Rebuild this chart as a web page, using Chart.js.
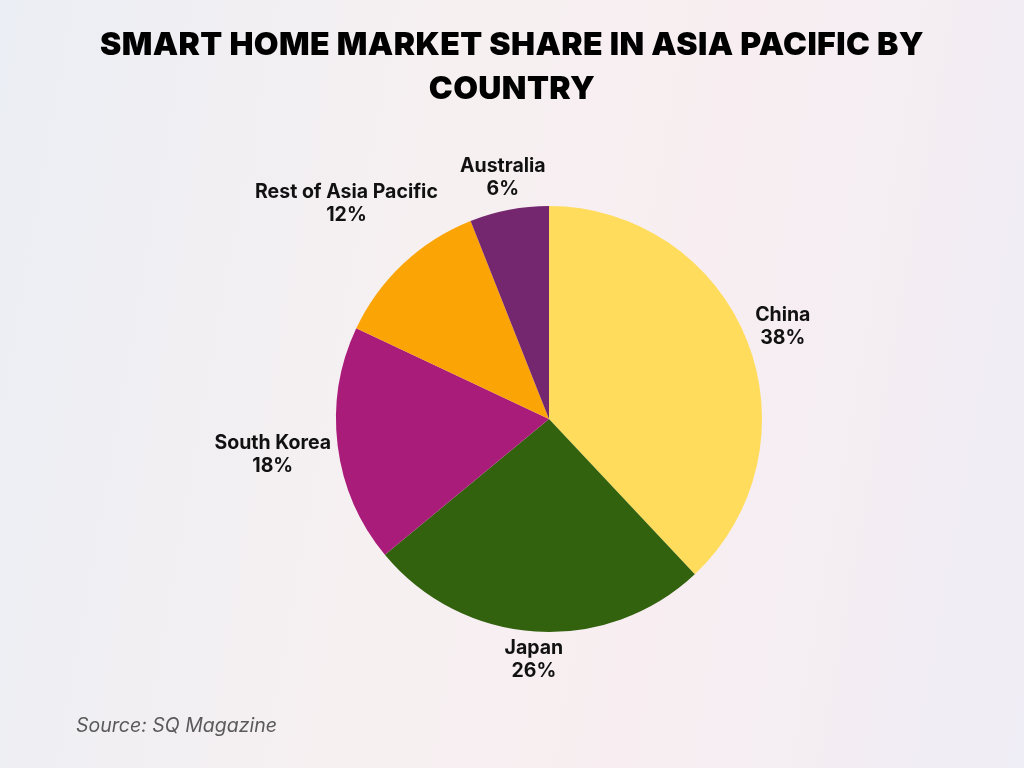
<!DOCTYPE html>
<html>
<head>
<meta charset="utf-8">
<script src="https://cdn.jsdelivr.net/npm/chart.js@4"></script>
<style>
  html, body { margin: 0; padding: 0; }
  body {
    width: 1024px; height: 768px; position: relative; overflow: hidden;
    background: linear-gradient(100deg, #ebeef4 0%, #f6f0f1 40%, #f8eef1 65%, #efedf5 100%);
    font-family: "Inter", "Noto Sans", sans-serif;
  }
  #title {
    position: absolute; left: 0; top: 22px; width: 1024px; text-align: center;
    font-family: "Inter", sans-serif; font-weight: 900; font-size: 32px; line-height: 44px;
    color: #000; letter-spacing: 0.4px;
  }
  #source {
    position: absolute; left: 76px; top: 713px;
    font-style: italic; font-size: 19.5px; color: #5a5a5a;
  }
  #wrap { position: absolute; left: 0; top: 0; width: 1024px; height: 768px; }
</style>
</head>
<body>
<div id="wrap"><canvas id="pieChart" width="1024" height="768"></canvas></div>
<div id="title">SMART HOME MARKET SHARE IN ASIA PACIFIC BY<br>COUNTRY</div>
<div id="source">Source: SQ Magazine</div>
<script>
// Market share by country (%)
const countries = ['China', 'Japan', 'South Korea', 'Rest of Asia Pacific', 'Australia'];
const shares = [38, 26, 18, 12, 6];
const sliceColors = ['#ffdc5b', '#33620f', '#a91c79', '#fba406', '#74276f'];

// labels outside the pie: name over value, pushed out along the mid-angle
const outsideLabels = {
    id: 'outsideLabels',
    afterDatasetsDraw(chart) {
        const ctx = chart.ctx;
        const meta = chart.getDatasetMeta(0);
        ctx.save();
        ctx.font = 'bold 19.5px Inter, sans-serif';
        ctx.fillStyle = '#111';
        ctx.textAlign = 'center';
        ctx.textBaseline = 'middle';
        meta.data.forEach((arc, i) => {
            const p = arc.getProps(['x', 'y', 'startAngle', 'endAngle', 'outerRadius'], true);
            const mid = (p.startAngle + p.endAngle) / 2;
            const line1 = countries[i];
            const line2 = shares[i] + '%';
            const w = Math.max(ctx.measureText(line1).width, ctx.measureText(line2).width);
            const h = 42;
            const c = Math.cos(mid), s = Math.sin(mid);
            const d = p.outerRadius + 5 + (w / 2) * Math.abs(c) + (h / 2) * Math.abs(s);
            const cx = p.x + d * c;
            const cy = p.y + d * s;
            ctx.fillText(line1, cx, cy - 11);
            ctx.fillText(line2, cx, cy + 12);
        });
        ctx.restore();
    }
};

const ctx = document.getElementById('pieChart').getContext('2d');
const pieChart = new Chart(ctx, {
    type: 'pie',
    data: {
        labels: countries,
        datasets: [{
            data: shares,
            backgroundColor: sliceColors,
            borderWidth: 0
        }]
    },
    options: {
        responsive: false,
        animation: false,
        layout: {
            padding: { left: 336, right: 262, top: 206, bottom: 136 }
        },
        plugins: {
            legend: { display: false },
            tooltip: { enabled: false }
        }
    },
    plugins: [outsideLabels]
});
</script>
</body>
</html>
